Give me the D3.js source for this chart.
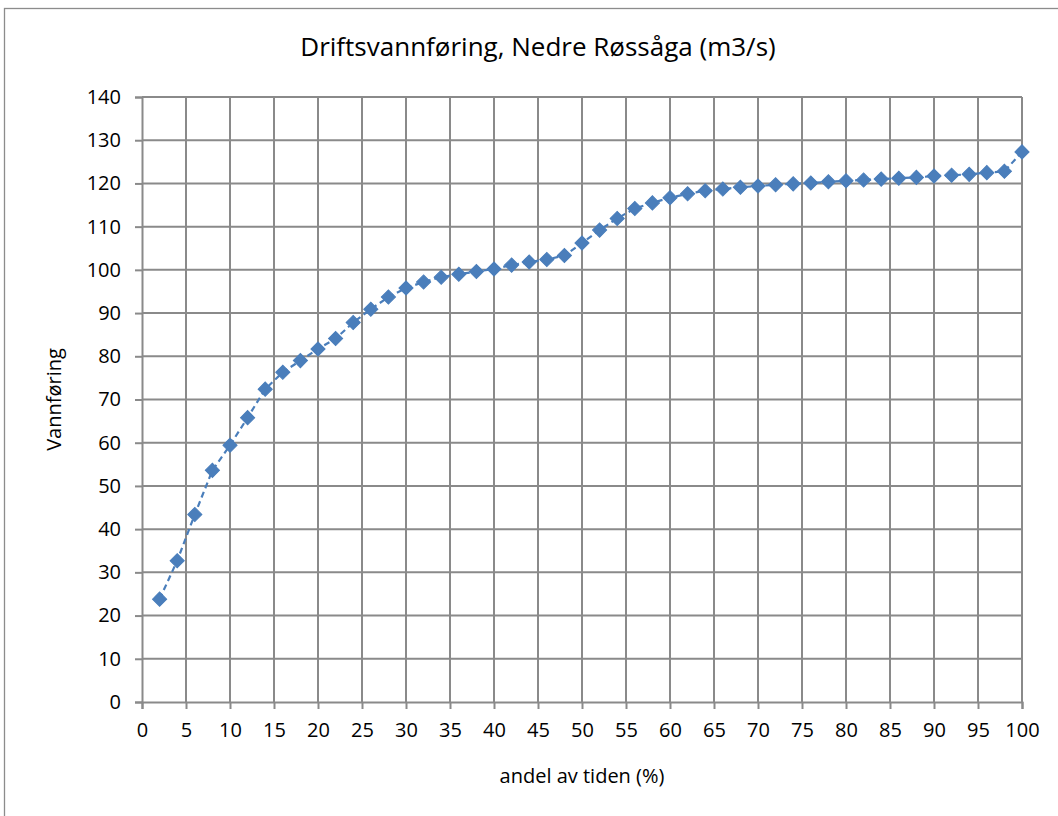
<!DOCTYPE html>
<html>
<head>
<meta charset="utf-8">
<script src="https://cdn.jsdelivr.net/npm/d3@7"></script>
<style>
  body { margin: 0; background: #fff; }
  svg text { font-family: "Liberation Sans Narrow", "Open Sans", sans-serif; fill: #000; }
</style>
</head>
<body>
<div id="chart"></div>
<script>
// andel av tiden (%) -> vannføring (m3/s)
var andel = [2, 4, 6, 8, 10, 12, 14, 16, 18, 20, 22, 24, 26, 28, 30, 32, 34, 36, 38, 40,
             42, 44, 46, 48, 50, 52, 54, 56, 58, 60, 62, 64, 66, 68, 70, 72, 74, 76, 78, 80,
             82, 84, 86, 88, 90, 92, 94, 96, 98, 100];
var vannforing = [23.8, 32.7, 43.4, 53.6, 59.4, 65.8, 72.4, 76.3, 79.0, 81.7,
                  84.1, 87.8, 90.9, 93.7, 95.8, 97.2, 98.3, 99.0, 99.6, 100.2,
                  101.1, 101.8, 102.4, 103.3, 106.2, 109.2, 111.9, 114.2, 115.5, 116.7,
                  117.6, 118.3, 118.7, 119.1, 119.4, 119.7, 119.9, 120.1, 120.4, 120.6,
                  120.8, 121.0, 121.2, 121.4, 121.7, 121.9, 122.1, 122.5, 122.8, 127.3];
var xTicks = d3.range(0, 101, 5);
var yTicks = d3.range(0, 141, 10);

var width = 1058, height = 816;
var margin = {top: 97, right: 36, bottom: 114, left: 142};

var svg = d3.select("#chart").append("svg")
    .attr("width", width)
    .attr("height", height);

// outer chart frame
svg.append("rect")
    .attr("x", 4.5).attr("y", 8.5)
    .attr("width", 1070).attr("height", 820)
    .attr("fill", "none")
    .attr("stroke", "#8c8c8c")
    .attr("stroke-width", 1.3);

var xScale = d3.scaleLinear().domain([0, 100]).range([margin.left, width - margin.right]);
var yScale = d3.scaleLinear().domain([0, 140]).range([height - margin.bottom, margin.top]);

var g = svg.append("g");

// gridlines
g.append("g").selectAll("line").data(yTicks.slice(1)).enter().append("line")
    .attr("x1", xScale(0)).attr("x2", xScale(100))
    .attr("y1", function (d) { return yScale(d); })
    .attr("y2", function (d) { return yScale(d); })
    .attr("stroke", "#8a8a8a").attr("stroke-width", 2);
g.append("g").selectAll("line").data(xTicks.slice(1)).enter().append("line")
    .attr("y1", yScale(0)).attr("y2", yScale(140))
    .attr("x1", function (d) { return xScale(d); })
    .attr("x2", function (d) { return xScale(d); })
    .attr("stroke", "#8a8a8a").attr("stroke-width", 2);

// Y axis
var yAxis = g.append("g")
    .attr("transform", "translate(" + xScale(0) + ",0)")
    .call(d3.axisLeft(yScale).tickValues(yTicks).tickSize(7).tickPadding(14));
yAxis.select(".domain").attr("stroke", "#8a8a8a").attr("stroke-width", 2);
yAxis.selectAll(".tick line").attr("stroke", "#8a8a8a").attr("stroke-width", 2);
yAxis.selectAll("text").attr("font-size", 20).attr("fill", "#000");

// X axis
var xAxis = g.append("g")
    .attr("transform", "translate(0," + yScale(0) + ")")
    .call(d3.axisBottom(xScale).tickValues(xTicks).tickSize(7).tickPadding(14));
xAxis.select(".domain").attr("stroke", "#8a8a8a").attr("stroke-width", 2);
xAxis.selectAll(".tick line").attr("stroke", "#8a8a8a").attr("stroke-width", 2);
xAxis.selectAll("text").attr("font-size", 20).attr("fill", "#000");

var data = andel.map(function (d, i) { return {x: d, y: vannforing[i]}; });

// dashed series line
g.append("path")
    .datum(data)
    .attr("fill", "none")
    .attr("stroke", "#4a7ebb")
    .attr("stroke-width", 2.2)
    .attr("stroke-dasharray", "6,4")
    .attr("d", d3.line()
        .x(function (d) { return xScale(d.x); })
        .y(function (d) { return yScale(d.y); }));

// diamond markers
g.append("g").selectAll("path").data(data).enter().append("path")
    .attr("d", d3.symbol().type(d3.symbolSquare).size(100))
    .attr("transform", function (d) {
        return "translate(" + xScale(d.x) + "," + yScale(d.y) + ") rotate(45)";
    })
    .attr("fill", "#4a7ebb")
    .attr("stroke", "#4a7ebb")
    .attr("stroke-width", 1);

// titles
svg.append("text")
    .attr("x", 538).attr("y", 56)
    .attr("text-anchor", "middle")
    .attr("font-size", 26)
    .text("Driftsvannføring, Nedre Røssåga (m3/s)");

svg.append("text")
    .attr("x", (xScale(0) + xScale(100)) / 2).attr("y", 783)
    .attr("text-anchor", "middle")
    .attr("font-size", 20)
    .text("andel av tiden (%)");

svg.append("text")
    .attr("transform", "translate(61," + ((yScale(0) + yScale(140)) / 2) + ") rotate(-90)")
    .attr("text-anchor", "middle")
    .attr("font-size", 20)
    .text("Vannføring");
</script>
</body>
</html>
